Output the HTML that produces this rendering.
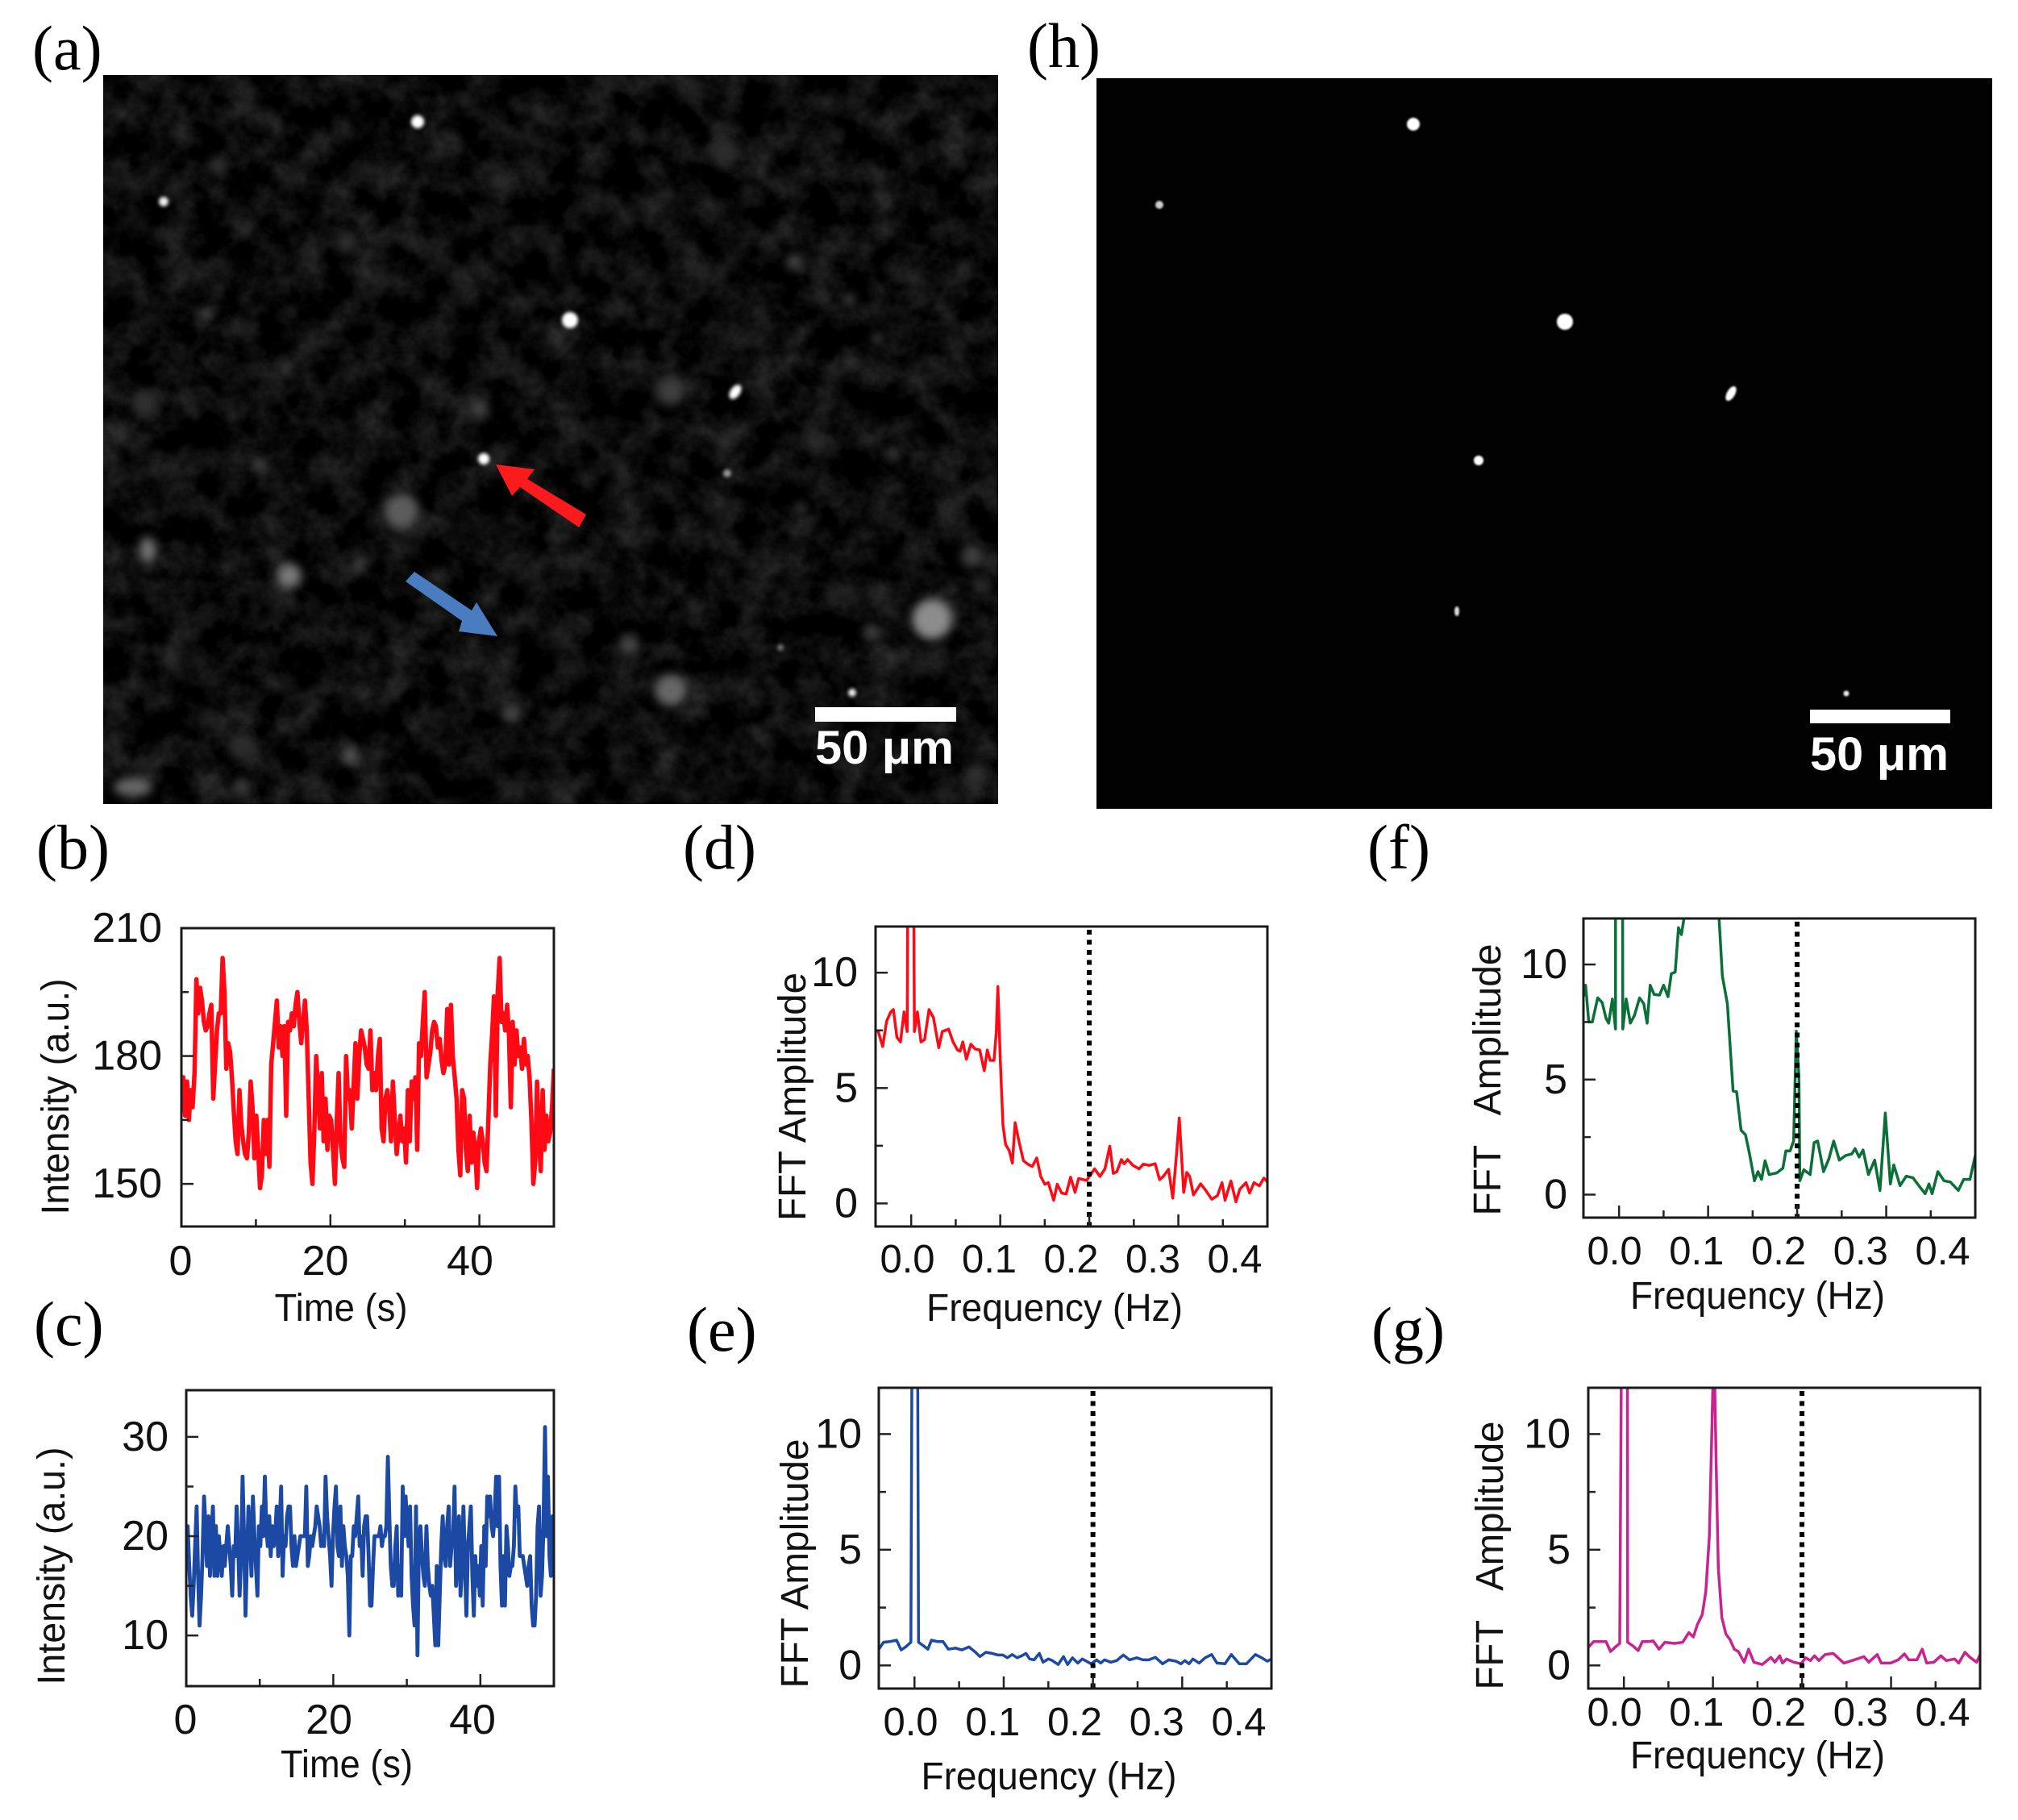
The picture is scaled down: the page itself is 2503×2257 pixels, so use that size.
<!DOCTYPE html>
<html>
<head>
<meta charset="utf-8">
<title>Fluorescence images with intensity traces and FFT spectra</title>
<style>
html,body{margin:0;padding:0;background:#fff;width:2503px;height:2257px;overflow:hidden}
svg{display:block}
text{font-family:"Liberation Sans",sans-serif;fill:#111}
.panel-letter{font-family:"Liberation Serif",serif;font-size:78px;fill:#000}
.scale-text{font-family:"Liberation Sans",sans-serif;font-weight:bold;font-size:58px;fill:#fff}
</style>
</head>
<body>
<svg id="figure" xmlns="http://www.w3.org/2000/svg" width="2503" height="2257" viewBox="0 0 2503 2257">
<defs>
<filter id="clouds" x="0" y="0" width="100%" height="100%" color-interpolation-filters="sRGB">
<feTurbulence type="fractalNoise" baseFrequency="0.025" numOctaves="4" seed="7"/>
<feColorMatrix type="matrix" values="0.32 0 0 0 -0.115 0.32 0 0 0 -0.115 0.32 0 0 0 -0.115 0 0 0 0 1"/>
</filter>
<filter id="blur-wide" x="-100%" y="-100%" width="300%" height="300%"><feGaussianBlur stdDeviation="6"/></filter>
<filter id="blur-small" x="-100%" y="-100%" width="300%" height="300%"><feGaussianBlur stdDeviation="2.2"/></filter>
<filter id="blur-tiny" x="-100%" y="-100%" width="300%" height="300%"><feGaussianBlur stdDeviation="1"/></filter>
<clipPath id="clip-a"><rect x="128" y="93" width="1110" height="904"/></clipPath>
</defs>
<rect width="2503" height="2257" fill="#fff"/>

<g clip-path="url(#clip-a)">
<rect x="128" y="93" width="1110" height="904" fill="#0a0a0a"/>
<rect x="128" y="93" width="1110" height="904" filter="url(#clouds)"/>
<g filter="url(#blur-wide)">
<circle cx="498" cy="634" r="22" fill="#5c5c5c"/>
<ellipse cx="183" cy="682" rx="10" ry="16" fill="#777"/>
<circle cx="359" cy="714" r="15" fill="#7a7a7a"/>
<circle cx="1156" cy="768" r="25" fill="#8c8c8c"/>
<circle cx="832" cy="856" r="20" fill="#666"/>
<circle cx="1206" cy="690" r="14" fill="#3c3c3c"/>
<circle cx="832" cy="485" r="18" fill="#3e3e3e"/>
<circle cx="595" cy="507" r="11" fill="#444"/>
<ellipse cx="165" cy="976" rx="24" ry="12" fill="#666"/>
<circle cx="434" cy="937" r="10" fill="#5a5a5a"/>
<circle cx="635" cy="885" r="12" fill="#444"/>
<circle cx="1053" cy="372" r="7" fill="#505050"/>
<circle cx="1089" cy="420" r="7" fill="#444"/>
<circle cx="985" cy="325" r="10" fill="#444"/>
<circle cx="1108" cy="563" r="9" fill="#3a3a3a"/>
<circle cx="993" cy="631" r="7" fill="#444"/>
<circle cx="1081" cy="784" r="10" fill="#444"/>
<circle cx="780" cy="800" r="12" fill="#444"/>
<circle cx="322" cy="576" r="9" fill="#444"/>
<circle cx="446" cy="699" r="7" fill="#444"/>
<circle cx="256" cy="388" r="7" fill="#555"/>
<circle cx="354" cy="455" r="8" fill="#3e3e3e"/>
<circle cx="270" cy="205" r="11" fill="#333"/>
<circle cx="430" cy="300" r="15" fill="#2c2c2c"/>
<circle cx="180" cy="500" r="17" fill="#2e2e2e"/>
<circle cx="900" cy="190" r="18" fill="#2c2c2c"/>
<circle cx="300" cy="925" r="18" fill="#2a2a2a"/>
<circle cx="1210" cy="960" r="13" fill="#333"/>
<circle cx="300" cy="975" r="10" fill="#404040"/>
</g>
<g filter="url(#blur-small)">
<circle cx="518" cy="151" r="8" fill="#fff"/>
<circle cx="203" cy="250" r="6" fill="#eee"/>
<circle cx="707" cy="397" r="10" fill="#fff"/>
<ellipse cx="912" cy="486" rx="6" ry="10" transform="rotate(35 912 486)" fill="#fff"/>
<circle cx="600" cy="569" r="7" fill="#fff"/>
<circle cx="902" cy="587" r="5" fill="#999"/>
<circle cx="1057" cy="859" r="5" fill="#eee"/>
<circle cx="968" cy="803" r="4" fill="#777"/>
</g>
</g>
<polygon fill="#fb1a1c" points="615,576 663,582 654,594 727,638 718,654 645,604 635,615"/>
<polygon fill="#4a7cc0" points="617,789 591,747 585,757 514,709 503,721 573,770 569,783"/>
<rect x="1011" y="877" width="175" height="18" fill="#fff"/>
<text class="scale-text" x="1011" y="947" textLength="172" lengthAdjust="spacingAndGlyphs">50 μm</text>

<g>
<rect x="1360" y="97" width="1111" height="906" fill="#020202"/>
<g filter="url(#blur-tiny)">
<circle cx="1753" cy="154" r="8" fill="#fff"/>
<circle cx="1438" cy="254" r="5" fill="#ccc"/>
<circle cx="1941" cy="399" r="10" fill="#fff"/>
<ellipse cx="2147" cy="488" rx="5" ry="10" transform="rotate(30 2147 488)" fill="#fff"/>
<circle cx="1834" cy="571" r="6" fill="#fff"/>
<ellipse cx="1807" cy="758" rx="3" ry="6" fill="#ddd"/>
<circle cx="2290" cy="860" r="3.5" fill="#eee"/>
</g>
</g>
<rect x="2245" y="880" width="174" height="17" fill="#fff"/>
<text class="scale-text" x="2245" y="955" textLength="172" lengthAdjust="spacingAndGlyphs">50 μm</text>

<text class="panel-letter" x="40" y="86">(a)</text>
<text class="panel-letter" x="1274" y="83">(h)</text>
<text class="panel-letter" x="45" y="1077">(b)</text>
<text class="panel-letter" x="42" y="1668">(c)</text>
<text class="panel-letter" x="847" y="1077">(d)</text>
<text class="panel-letter" x="852" y="1675">(e)</text>
<text class="panel-letter" x="1696" y="1077">(f)</text>
<text class="panel-letter" x="1701" y="1675">(g)</text>
</svg>

<script>
// ---------- Chart data ----------
const intensityB = [
171,175,166,174,165,172,168,176,
198,190,196,193,188,186,187,190,
192,170,178,186,190,190,203,195,
177,183,181,175,167,160,157,172,
164,160,157,156,162,174,168,156,
166,158,149,152,165,157,165,154,
178,183,188,193,182,187,180,187,
166,188,186,190,187,192,195,188,
183,188,193,186,170,155,150,162,
180,172,163,176,160,170,158,166,
165,158,150,165,176,160,156,154,
180,170,172,163,173,183,170,180,
186,184,182,178,177,186,172,176,
172,180,184,163,160,170,172,168,
160,174,165,157,162,166,160,163,
155,172,160,174,170,175,158,183,
180,188,195,175,178,181,186,188,
187,182,184,179,176,178,191,178,
192,180,175,170,158,152,172,170,
158,153,166,155,162,158,149,160,
163,160,155,153,165,178,185,194,
166,195,203,188,190,186,192,185,
168,188,178,186,180,182,177,184,
178,180,175,165,150,155,174,160,
153,172,158,166,160,162,168,177
];
const intensityC = [
19,21,17,14,12, 15,19,23,16,11, 14,18,24,21,17, 22,16,20,23,16,
21,16,20,18,16, 19,17,19,21,19, 17,14,19,18,23, 19,14,18,26,20,
12,18,23,20,16, 24,20,17,14,21, 19,23,20,26,21, 19,22,18,21,19,
20,23,18,21,25, 16,20,19,22,23, 23,19,17,20,17, 18,19,20,20,20,
20,25,17,18,20, 19,20,21,23,22, 21,19,20,19,26, 22,20,18,15,20,
23,25,19,18,23, 17,21,19,18,16, 10,18,18,21,20, 22,24,19,20,16,
21,22,22,18,13, 13,17,20,20,20, 20,21,19,20,20, 21,28,22,17,15,
15,19,21,14,17, 14,25,20,24,21, 19,23,16,13,11, 23,8,20,21,18,
16,15,21,17,15, 14,15,12,9,17, 9,14,19,22,18, 17,21,23,17,19,
20,25,15,18,22, 14,17,23,17,12, 19,21,23,16,12, 18,15,17,14,19,
13,21,17,24,22, 24,21,20,22,26, 21,26,17,13,18, 13,21,19,16,17,
17,19,25,22,23, 18,18,18,17,16, 15,17,18,13,11, 11,14,21,23,14,
16,21,31,20,26, 18,16,22,16
];
const freqD = [-.04,-.037,-.032,-.0276,-.023,-.02,-.016,-.012,-.008,-.0045,-.004,.003,.0036,.007,.011,.015,.02,.025,.031,.035,.042,.047,.052,.055,.058,.062,.067,.0715,.077,.082,.0855,.0887,.093,.0955,.0973,.1,.103,.106,.11,.1136,.1167,.121,.126,.131,.136,.141,.1455,.15,.154,.16,.164,.169,.174,.179,.184,.188,.197,.206,.212,.2176,.223,.227,.231,.236,.239,.243,.249,.256,.2606,.2674,.274,.279,.283,.289,.2937,.298,.301,.306,.3095,.3127,.317,.325,.331,.3375,.344,.349,.3525,.359,.3647,.369,.376,.38,.385,.391,.396,.401];
const ampD = [7.5,7.45,6.8,7.9,8.3,8.4,7.2,7.0,8.3,7.45,12.2,12.2,7.45,8.3,7.0,7.1,8.4,8.05,6.75,7.45,7.55,7.0,6.65,6.6,7.0,6.25,6.9,6.7,6.65,5.75,6.65,6.2,6.2,7.4,9.4,6.3,3.4,2.55,2.3,1.75,3.5,2.7,1.85,1.7,1.6,1.97,1.17,.83,.9,.14,.83,.45,.41,1.14,.48,1.08,1.0,1.5,1.17,1.5,2.48,1.3,1.38,1.9,1.72,1.9,1.65,1.5,1.7,1.65,1.72,1.03,1.17,1.48,.23,2.14,3.7,.48,1.34,1.17,.37,.85,.55,.18,.34,.9,.14,.97,.07,.62,.9,.45,.9,.76,1.1,.9];
const freqE = [-.04,-.0347,-.028,-.02,-.015,-.01,-.004,-.003,.0036,.0045,.01,.015,.019,.026,.032,.038,.046,.053,.061,.0675,.0734,.08,.087,.0937,.099,.104,.1095,.115,.12,.125,.129,.134,.14,.144,.15,.1545,.161,.167,.1716,.177,.183,.188,.198,.204,.2086,.213,.22,.2266,.234,.241,.249,.256,.2626,.27,.278,.285,.293,.2986,.303,.3077,.312,.319,.3257,.333,.339,.348,.355,.364,.372,.382,.389,.3955,.4];
const ampE = [.7,1.0,1.03,1.09,.67,.8,1.0,12.2,12.2,1.0,.85,.7,1.09,1.03,1.03,.7,.75,.67,.8,.6,.38,.57,.52,.45,.45,.33,.47,.33,.41,.52,.28,.24,.52,.14,.28,.21,.04,.38,.04,.33,.1,.28,.07,.24,.1,.24,.14,.21,.45,.24,.33,.24,.24,.35,.07,.24,.18,.07,.21,.07,.28,.1,.33,.47,.1,.07,.47,.07,.07,.47,.33,.18,.28];
const freqF = [-.04,-.0376,-.034,-.03,-.024,-.019,-.0146,-.0117,-.0075,-.004,-.004,.004,.0042,.008,.0127,.0174,.023,.0277,.0315,.035,.0394,.0455,.05,.055,.0587,.063,.0667,.07,.0737,.112,.116,.1216,.128,.132,.137,.142,.1465,.152,.156,.16,.164,.1685,.177,.184,.1873,.192,.196,.199,.202,.203,.2075,.2146,.219,.223,.2296,.2357,.241,.2474,.2545,.2615,.265,.2695,.274,.28,.287,.293,.299,.3047,.3085,.3155,.3225,.33,.3366,.3437,.348,.3516,.358,.365,.372,.381,.387,.394,.4];
const ampF = [8.6,9.1,7.5,7.5,8.55,8.35,7.65,7.45,8.5,7.2,12.2,12.2,7.2,8.5,7.45,7.8,8.55,8.3,7.45,9.1,8.7,8.67,9.1,8.6,9.6,9.67,11.6,11.3,12.2,12.2,9.5,8.3,4.5,4.47,2.8,2.6,1.77,.6,1.0,.66,1.47,.87,.94,1.15,1.9,1.9,2.33,7.1,5.1,.6,1.08,.87,2.26,2.33,1.0,1.56,2.33,1.5,1.7,1.77,2.0,1.63,1.94,.87,1.5,.18,3.55,.46,1.29,.39,.8,.73,.39,.04,.46,.04,1.0,.6,.55,.18,.66,.66,1.7];
const freqG = [-.04,-.034,-.028,-.02,-.015,-.01,-.0047,-.003,.004,.0042,.01,.016,.0207,.027,.033,.0394,.046,.057,.066,.073,.078,.0826,.088,.092,.096,.0986,.1,.102,.1038,.106,.11,.1146,.119,.124,.1286,.135,.14,.146,.1554,.165,.1695,.175,.178,.1826,.1906,.199,.204,.2094,.214,.219,.226,.235,.247,.2587,.2695,.275,.2845,.289,.2995,.308,.315,.32,.329,.335,.34,.348,.356,.362,.3714,.376,.383,.3887,.396,.4];
const ampG = [.78,1.03,1.03,1.03,.6,.78,.95,12.2,12.2,1.0,.85,.64,1.03,1.03,1.06,.7,1.0,.95,1.0,1.42,1.23,1.77,2.2,3.2,5.6,9.9,12.2,12.2,8.4,4.2,2.06,1.35,1.13,.7,.6,.14,.7,.14,.04,.35,.14,.42,.1,.28,.14,.07,.33,.21,.42,.21,.47,.52,.1,.24,.38,.14,.47,.1,.1,.24,.5,.24,.24,.7,.1,.14,.42,.21,.28,.1,.57,.35,.14,.47];

const timeRange = [0, 50];
const freqRange = [-.04, .4];
const ampRange = [-1, 12];
const markerFrequency = 0.2;
const timeMajorTicks = [20, 40];
const timeMinorTicks = [10, 30];
const timeTickLabels = [0, 20, 40];
const freqMajorTicks = [0, .1, .2, .3];
const freqMinorTicks = [.05, .15, .25, .35];
const freqTickLabels = ['0.0', '0.1', '0.2', '0.3', '0.4'];
const ampMajorTicks = [0, 5, 10];
const ampMinorTicks = [2.5, 7.5];
const ampTickLabels = [0, 5, 10];
const intensityRangeB = [140, 210];
const intensityMajorTicksB = [150, 180];
const intensityMinorTicksB = [165, 195];
const intensityTickLabelsB = [150, 180, 210];
const intensityRangeC = [4.9, 34.7];
const intensityMajorTicksC = [10, 20, 30];
const intensityMinorTicksC = [15, 25];
const intensityTickLabelsC = [10, 20, 30];

// ---------- Drawing ----------
const NS = 'http://www.w3.org/2000/svg';
const svg = document.getElementById('figure');

function scale(domain, a, b) {
  return v => a + (v - domain[0]) / (domain[1] - domain[0]) * (b - a);
}
function setAll(el, attrs) {
  for (const k in attrs) el.setAttribute(k, attrs[k]);
  return el;
}
function addText(parent, str, attrs, name) {
  const el = setAll(document.createElementNS(NS, 'text'), attrs);
  el.textContent = str;
  
  
  parent.appendChild(el);
  return el;
}
function addTick(parent, x1, y1, x2, y2, name) {
  const el = setAll(document.createElementNS(NS, 'line'), {x1, y1, x2, y2, stroke: '#222', 'stroke-width': 2.5});
  
  
  parent.appendChild(el);
}

function drawPanel(c) {
  const g = document.createElementNS(NS, 'g');
  
  
  svg.appendChild(g);

  const x = scale(c.xRange, c.x0, c.x1);
  const y = scale(c.yRange, c.y1, c.y0);
  const xLabel = scale(c.xLabelDomain, c.xLabelStart, c.xLabelEnd);

  const clip = document.createElementNS(NS, 'clipPath');
  clip.setAttribute('id', 'plot-clip-' + c.id);
  clip.appendChild(setAll(document.createElementNS(NS, 'rect'), {x: c.x0, y: c.y0, width: c.x1 - c.x0, height: c.y1 - c.y0}));
  g.appendChild(clip);

  const xs = c.xs ? c.xs : c.ys.map((_, i) => c.xRange[0] + i * (c.xRange[1] - c.xRange[0]) / (c.ys.length - 1));
  const d = c.ys.map((v, i) => (i ? 'L' : 'M') + x(xs[i]).toFixed(1) + ' ' + y(v).toFixed(1)).join('');
  const line = setAll(document.createElementNS(NS, 'path'), {
    d, fill: 'none', stroke: c.color, 'stroke-width': c.lineWidth,
    'stroke-linejoin': 'round', 'clip-path': 'url(#plot-clip-' + c.id + ')'
  });
  
  
  g.appendChild(line);

  if (c.marker !== undefined) {
    const dots = setAll(document.createElementNS(NS, 'line'), {
      x1: x(c.marker), x2: x(c.marker), y1: c.y0 + 4, y2: c.y1,
      stroke: '#000', 'stroke-width': 6, 'stroke-dasharray': '6 6.5'
    });
    
    
    g.appendChild(dots);
  }

  const box = setAll(document.createElementNS(NS, 'rect'), {
    x: c.x0, y: c.y0, width: c.x1 - c.x0, height: c.y1 - c.y0,
    fill: 'none', stroke: '#1a1a1a', 'stroke-width': 3
  });
  
  
  g.appendChild(box);

  c.xMajor.forEach(v => addTick(g, x(v), c.y1, x(v), c.y1 - 15, 'x-major-tick-' + c.id));
  c.xMinor.forEach(v => addTick(g, x(v), c.y1, x(v), c.y1 - 9, 'x-minor-tick-' + c.id));
  c.yMajor.forEach(v => addTick(g, c.x0, y(v), c.x0 + 15, y(v), 'y-major-tick-' + c.id));
  c.yMinor.forEach(v => addTick(g, c.x0, y(v), c.x0 + 9, y(v), 'y-minor-tick-' + c.id));

  c.xLabels.forEach((lab, i) => {
    addText(g, lab, {
      x: xLabel(c.xLabelValues ? c.xLabelValues[i] : i), y: c.xLabelBase,
      'text-anchor': 'middle', 'font-size': c.xFont
    }, 'x-tick-label-' + c.id);
  });
  c.yLabels.forEach(v => {
    addText(g, String(v), {
      x: c.yLabelRight, y: y(v) + 17, 'text-anchor': 'end', 'font-size': 52
    }, 'y-tick-label-' + c.id);
  });

  addText(g, c.xTitle, {
    x: c.xTitleX, y: c.xTitleBase, 'text-anchor': 'middle', 'font-size': 48,
    textLength: c.xTitleLen, lengthAdjust: 'spacingAndGlyphs'
  }, 'x-axis-title-' + c.id);
  addText(g, c.yTitle, {
    x: 0, y: 0, 'text-anchor': 'middle', 'font-size': 48,
    textLength: c.yTitleLen, lengthAdjust: 'spacingAndGlyphs',
    transform: 'translate(' + c.yTitleX + ' ' + c.yTitleY + ') rotate(-90)',
    style: 'white-space:pre'
  }, 'y-axis-title-' + c.id);
}

drawPanel({id: 'b', x0: 225, x1: 687, y0: 1151, y1: 1521, xRange: timeRange, yRange: intensityRangeB,
  ys: intensityB, color: '#ff0a14', lineWidth: 5.5,
  xMajor: timeMajorTicks, xMinor: timeMinorTicks, yMajor: intensityMajorTicksB, yMinor: intensityMinorTicksB,
  xLabels: timeTickLabels.map(String), xLabelValues: timeTickLabels, xLabelDomain: [0, 40], xLabelStart: 224, xLabelEnd: 583,
  xLabelBase: 1581, xFont: 52, yLabels: intensityTickLabelsB, yLabelRight: 201,
  xTitle: 'Time (s)', xTitleX: 423, xTitleBase: 1638, xTitleLen: 165,
  yTitle: 'Intensity (a.u.)', yTitleX: 85, yTitleY: 1360, yTitleLen: 293});

drawPanel({id: 'c', x0: 231, x1: 687, y0: 1724, y1: 2091, xRange: timeRange, yRange: intensityRangeC,
  ys: intensityC, color: '#1b49a3', lineWidth: 4.8,
  xMajor: timeMajorTicks, xMinor: timeMinorTicks, yMajor: intensityMajorTicksC, yMinor: intensityMinorTicksC,
  xLabels: timeTickLabels.map(String), xLabelValues: timeTickLabels, xLabelDomain: [0, 40], xLabelStart: 230, xLabelEnd: 586,
  xLabelBase: 2150, xFont: 52, yLabels: intensityTickLabelsC, yLabelRight: 209,
  xTitle: 'Time (s)', xTitleX: 430, xTitleBase: 2204, xTitleLen: 164,
  yTitle: 'Intensity (a.u.)', yTitleX: 80, yTitleY: 1942, yTitleLen: 295});

drawPanel({id: 'd', x0: 1086, x1: 1572, y0: 1149, y1: 1521, xRange: freqRange, yRange: ampRange,
  xs: freqD, ys: ampD, color: '#ff0a14', lineWidth: 3.5, marker: markerFrequency,
  xMajor: freqMajorTicks, xMinor: freqMinorTicks, yMajor: ampMajorTicks, yMinor: ampMinorTicks,
  xLabels: freqTickLabels, xLabelDomain: [0, 4], xLabelStart: 1125.5, xLabelEnd: 1531.5,
  xLabelBase: 1578, xFont: 49, yLabels: ampTickLabels, yLabelRight: 1064,
  xTitle: 'Frequency (Hz)', xTitleX: 1308, xTitleBase: 1638, xTitleLen: 318,
  yTitle: 'FFT Amplitude', yTitleX: 999, yTitleY: 1360, yTitleLen: 308});

drawPanel({id: 'e', x0: 1090, x1: 1577, y0: 1721, y1: 2094, xRange: freqRange, yRange: ampRange,
  xs: freqE, ys: ampE, color: '#1b49a3', lineWidth: 3.5, marker: markerFrequency,
  xMajor: freqMajorTicks, xMinor: freqMinorTicks, yMajor: ampMajorTicks, yMinor: ampMinorTicks,
  xLabels: freqTickLabels, xLabelDomain: [0, 4], xLabelStart: 1129.5, xLabelEnd: 1536.5,
  xLabelBase: 2152, xFont: 49, yLabels: ampTickLabels, yLabelRight: 1069,
  xTitle: 'Frequency (Hz)', xTitleX: 1301, xTitleBase: 2219, xTitleLen: 317,
  yTitle: 'FFT Amplitude', yTitleX: 1002, yTitleY: 1939, yTitleLen: 309});

drawPanel({id: 'f', x0: 1964, x1: 2450, y0: 1139, y1: 1510, xRange: freqRange, yRange: ampRange,
  xs: freqF, ys: ampF, color: '#0a7038', lineWidth: 3.5, marker: markerFrequency,
  xMajor: freqMajorTicks, xMinor: freqMinorTicks, yMajor: ampMajorTicks, yMinor: ampMinorTicks,
  xLabels: freqTickLabels, xLabelDomain: [0, 4], xLabelStart: 2002.6, xLabelEnd: 2409.5,
  xLabelBase: 1568, xFont: 49, yLabels: ampTickLabels, yLabelRight: 1944,
  xTitle: 'Frequency (Hz)', xTitleX: 2180, xTitleBase: 1623, xTitleLen: 316,
  yTitle: 'FFT   Amplitude', yTitleX: 1861, yTitleY: 1339, yTitleLen: 337});

drawPanel({id: 'g', x0: 1970, x1: 2456, y0: 1721, y1: 2094, xRange: freqRange, yRange: ampRange,
  xs: freqG, ys: ampG, color: '#c9238f', lineWidth: 3.5, marker: markerFrequency,
  xMajor: freqMajorTicks, xMinor: freqMinorTicks, yMajor: ampMajorTicks, yMinor: ampMinorTicks,
  xLabels: freqTickLabels, xLabelDomain: [0, 4], xLabelStart: 2002.6, xLabelEnd: 2409.5,
  xLabelBase: 2140, xFont: 49, yLabels: ampTickLabels, yLabelRight: 1948,
  xTitle: 'Frequency (Hz)', xTitleX: 2180, xTitleBase: 2193, xTitleLen: 316,
  yTitle: 'FFT   Amplitude', yTitleX: 1864, yTitleY: 1929, yTitleLen: 333});
</script>
</body>
</html>
